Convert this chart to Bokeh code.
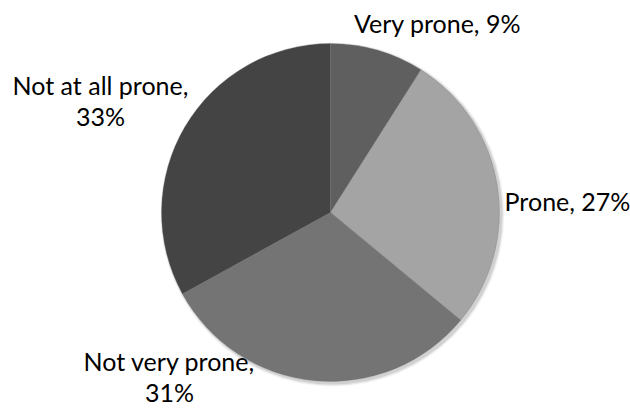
import math
from bokeh.plotting import figure
from bokeh.models import ColumnDataSource
from bokeh.core.properties import value
from bokeh.embed import file_html
from bokeh.resources import INLINE

categories = ["Very prone", "Prone", "Not very prone", "Not at all prone"]
percents = [9, 27, 31, 33]
colors = ["#5f5f5f", "#a4a4a4", "#747474", "#444444"]

W, H = 630, 408
CX, CY, R = 330, H - 212, 169

starts, ends = [], []
acc = 0.0
for v in percents:
    a0 = math.pi / 2 - 2 * math.pi * acc / 100
    acc += v
    a1 = math.pi / 2 - 2 * math.pi * acc / 100
    starts.append(a1)
    ends.append(a0)

src = ColumnDataSource(dict(cat=categories, val=percents, start=starts, end=ends, color=colors))

p = figure(width=W, height=H, x_range=(0, W), y_range=(0, H), output_backend="svg",
           toolbar_location=None, min_border=0, outline_line_color=None)
p.axis.visible = False
p.grid.visible = False
p.background_fill_color = "white"

# soft shadow
for d, a in [(3, 0.04), (2, 0.06), (1, 0.09)]:
    p.circle(x=CX + 2, y=CY - 2, radius=R + d, fill_color="black", fill_alpha=a, line_color=None)

p.wedge(x=CX, y=CY, radius=R, start_angle="start", end_angle="end", fill_color="color",
        line_color="#7a7a7a", line_width=0.5, line_alpha=0.6, source=src)

# label anchors (layout, in plot pixels from top-left)
label_pos = [
    [(437, 22)],
    [(567, 200)],
    [(169, 360), (169, 391)],
    [(100, 84), (100, 115)],
]
for cat, v, pos in zip(categories, percents, label_pos):
    if len(pos) == 1:
        lines = [f"{cat}, {v}%"]
    else:
        lines = [f"{cat},", f"{v}%"]
    for (x, y), t in zip(pos, lines):
        p.text(x=[x], y=[H - y], text=[t], text_font=value("Lato"), text_font_size="25px",
               text_color="#000000", text_align="center", text_baseline="middle")

open("out.html", "w").write(file_html(p, INLINE))
